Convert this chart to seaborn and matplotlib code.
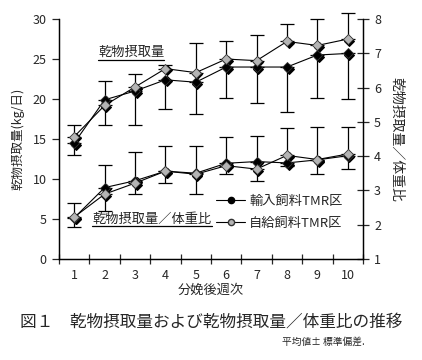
import numpy as np
import pandas as pd
import seaborn as sns
import matplotlib.pyplot as plt
from matplotlib.lines import Line2D
from matplotlib.transforms import ScaledTranslation, IdentityTransform

weeks = [1, 2, 3, 4, 5, 6, 7, 8, 9, 10]

# dry matter intake (kg/day), left axis
dmi_import = [14.5, 19.9, 21.0, 22.4, 22.1, 24.0, 24.0, 24.0, 25.5, 25.7]
dmi_own = [15.3, 19.2, 21.5, 23.8, 23.3, 25.0, 24.8, 27.2, 26.7, 27.5]
dmi_import_sd = [1.5, 3.2, 4.2, 3.7, 4.0, 3.9, 4.5, 5.6, 5.4, 5.7]
dmi_own_sd = [1.5, 3.1, 1.6, 0.5, 3.7, 2.2, 3.2, 2.2, 3.3, 3.2]

# dry matter intake / body weight ratio, right axis
ratio_import = [2.20, 3.08, 3.28, 3.56, 3.50, 3.79, 3.84, 3.80, 3.89, 4.01]
ratio_own = [2.22, 2.89, 3.21, 3.56, 3.47, 3.72, 3.62, 4.02, 3.90, 4.06]
ratio_import_sd = [0.27, 0.68, 0.38, 0.35, 0.60, 0.31, 0.56, 0.10, 0.40, 0.39]
ratio_own_sd = [0.40, 0.85, 0.90, 0.74, 0.83, 0.85, 0.97, 0.79, 0.95, 0.80]

series_names = ["輸入飼料TMR区", "自給飼料TMR区"]
gray = "#b4b4b4"

sns.set_style("ticks")
plt.rcParams['font.family'] = ['Noto Sans CJK JP', 'DejaVu Sans']

fig = plt.figure(figsize=(4.22, 3.6), dpi=100)
ax = fig.add_axes([0.140, 0.281, 0.720, 0.666])
ax2 = ax.twinx()

df = pd.DataFrame({"week": weeks, "dmi_imp": dmi_import, "dmi_own": dmi_own,
                   "r_imp": ratio_import, "r_own": ratio_own})

shadow = ScaledTranslation(1.2 / 72, -1.2 / 72, fig.dpi_scale_trans)


def draw(axis, x, y, sd_minus, sd_plus, face):
    axis.errorbar(x, y, yerr=[sd_minus, sd_plus], fmt="none", ecolor="black",
                  elinewidth=0.9, capsize=5, capthick=0.9, zorder=1, clip_on=False)
    sns.lineplot(data=df, x="week", y=y.name, ax=axis, color="black", lw=0.8,
                 marker=None, zorder=2, errorbar=None)
    sns.lineplot(data=df, x="week", y=y.name, ax=axis, color="black", linestyle="",
                 marker="D", ms=5.5, mec="black", mfc="black", zorder=3, errorbar=None,
                 transform=axis.transData + shadow, clip_on=False)
    sns.lineplot(data=df, x="week", y=y.name, ax=axis, color="black", linestyle="",
                 marker="D", ms=5.5, mec="#333333", mew=0.6, mfc=face, zorder=4,
                 errorbar=None, clip_on=False)


zeros = [0] * 10
draw(ax, df["week"], df["dmi_imp"], dmi_import_sd, zeros, "black")
draw(ax, df["week"], df["dmi_own"], zeros, dmi_own_sd, gray)
draw(ax2, df["week"], df["r_imp"], ratio_import_sd, zeros, "black")
draw(ax2, df["week"], df["r_own"], zeros, ratio_own_sd, gray)

for a in (ax, ax2):
    a.set_xlim(0.5, 10.5)
    a.spines["top"].set_visible(False)
    a.set_xlabel("")
    a.set_ylabel("")

ax.set_ylim(0, 30)
ax.set_yticks(range(0, 31, 5))
ax2.set_ylim(1, 8)
ax2.set_yticks(range(1, 9))

ax.set_xticks(weeks)
ax.set_xticks(np.arange(0.5, 11, 1), minor=True)
ax.tick_params(axis="x", which="major", length=0, labelsize=9, pad=7)
ax.tick_params(axis="x", which="minor", length=7, direction="inout", width=0.9)
ax.tick_params(axis="y", length=5, direction="out", width=0.9, labelsize=9, pad=4)
ax2.tick_params(axis="y", length=8, direction="inout", width=0.9, labelsize=9, pad=4)
for a in (ax, ax2):
    for s in a.spines.values():
        s.set_linewidth(0.9)
        s.set_color("black")

ax.set_xlabel("分娩後週次", fontsize=9.5, labelpad=2)
ax.set_ylabel("乾物摂取量(kg/日)", fontsize=9, labelpad=6)
ax2.set_ylabel("乾物摂取量／体重比", fontsize=10, rotation=-90, labelpad=16)

t1 = ax.text(2.87, 25.8, "乾物摂取量", fontsize=9.5, ha="center", va="center")
t2 = ax.text(3.56, 5.0, "乾物摂取量／体重比", fontsize=9.5, ha="center", va="center")

handles = [Line2D([], [], color="black", lw=0.8, marker="o", ms=4.5, mfc="black", mec="black"),
           Line2D([], [], color="black", lw=0.8, marker="o", ms=4.5, mfc=gray, mec="#333333")]
leg = ax2.legend(handles, series_names, loc="upper left", bbox_to_anchor=(0.50, 0.29),
                 frameon=False, fontsize=9.5, handlelength=2.2, handletextpad=0.3,
                 labelspacing=0.7, borderaxespad=0)

fig.text(0.5, 0.105, "図１　乾物摂取量および乾物摂取量／体重比の推移", fontsize=12,
         ha="center", va="center")
fig.text(0.865, 0.052, "平均値± 標準偏差.", fontsize=7, ha="right", va="center")

fig.canvas.draw()
r = fig.canvas.get_renderer()
for t in (t1, t2):
    bb = t.get_window_extent(r)
    fig.add_artist(Line2D([bb.x0, bb.x1], [bb.y0 - 0.5, bb.y0 - 0.5], lw=0.9,
                          color="black", transform=IdentityTransform()))

fig.savefig("out.png", dpi=100)
